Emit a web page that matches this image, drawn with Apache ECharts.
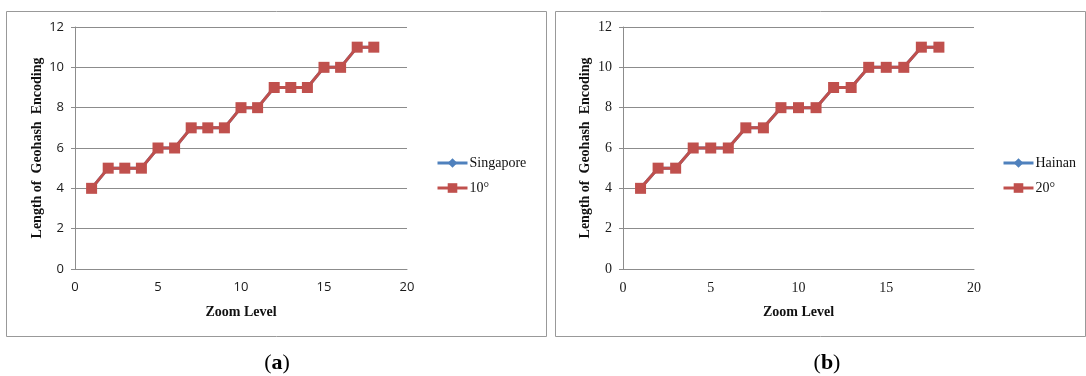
<!DOCTYPE html>
<html>
<head>
<meta charset="utf-8">
<script src="https://cdn.jsdelivr.net/npm/echarts@6/dist/echarts.min.js"></script>
<style>
  html, body { margin: 0; padding: 0; background: #fff; }
  #chart { width: 1086px; height: 376px; }
</style>
</head>
<body>
<div id="chart"></div>
<script>
// Geohash encoding length per map zoom level, two regions
const zoomLevels = [1, 2, 3, 4, 5, 6, 7, 8, 9, 10, 11, 12, 13, 14, 15, 16, 17, 18];
const singapore = [4, 5, 5, 5, 6, 6, 7, 7, 7, 8, 8, 9, 9, 9, 10, 10, 11, 11];
const deg10     = [4, 5, 5, 5, 6, 6, 7, 7, 7, 8, 8, 9, 9, 9, 10, 10, 11, 11];
const hainan    = [4, 5, 5, 6, 6, 6, 7, 7, 8, 8, 8, 9, 9, 10, 10, 10, 11, 11];
const deg20     = [4, 5, 5, 6, 6, 6, 7, 7, 8, 8, 8, 9, 9, 10, 10, 10, 11, 11];
const seriesNamesA = ['Singapore', '10°'];
const seriesNamesB = ['Hainan', '20°'];
const captions = ['a', 'b'];
const xTitle = 'Zoom Level';
const yTitle = 'Length of  Geohash  Encoding';

const pairs = (ys) => zoomLevels.map((x, i) => [x, ys[i]]);

const BLUE = '#4F81BD';
const RED = '#C0504D';
const GRID = '#8c8c8c';
const SERIF = '"Liberation Serif", "Times New Roman", serif';
const SANS = '"Open Sans", "Liberation Sans", sans-serif';

function xAxis(gridIndex, labelFont, labelSize) {
  return {
    type: 'value', gridIndex, min: 0, max: 20, interval: 5,
    name: xTitle, nameLocation: 'middle', nameGap: 36,
    nameTextStyle: { fontFamily: SERIF, fontWeight: 'bold', fontSize: 14, color: '#111' },
    axisLine: { show: true, lineStyle: { color: GRID, width: 1 } },
    axisTick: { show: false },
    splitLine: { show: false },
    axisLabel: { margin: 12, fontFamily: labelFont, fontSize: labelSize, color: '#1a1a1a' }
  };
}
function yAxis(gridIndex, labelFont, labelSize) {
  return {
    type: 'value', gridIndex, min: 0, max: 12, interval: 2,
    name: yTitle, nameLocation: 'middle', nameGap: 31, nameRotate: 90,
    nameTextStyle: { fontFamily: SERIF, fontWeight: 'bold', fontSize: 14, color: '#111' },
    axisLine: { show: true, lineStyle: { color: GRID, width: 1 } },
    axisTick: { show: true, inside: false, length: 4, lineStyle: { color: GRID } },
    splitLine: { show: true, lineStyle: { color: GRID, width: 1 } },
    axisLabel: { margin: 11, fontFamily: labelFont, fontSize: labelSize, color: '#1a1a1a' }
  };
}
function lineSeries(name, data, idx, color, symbol, size, z) {
  return {
    type: 'line', name, data: pairs(data), xAxisIndex: idx, yAxisIndex: idx,
    symbol, symbolSize: size, showSymbol: true, z,
    lineStyle: { color, width: 3 },
    itemStyle: { color, borderWidth: 0 },
    emphasis: { disabled: true }, animation: false
  };
}
function legend(names, left) {
  return {
    data: names, orient: 'vertical', left, top: 151,
    itemWidth: 30, itemHeight: 12, itemGap: 11,
    lineStyle: { width: 3 },
    textStyle: { fontFamily: SERIF, fontSize: 14, color: '#111', padding: [0, 0, 0, -3] },
    selectedMode: false
  };
}
function frame(x, w) {
  return { type: 'rect', shape: { x: x + 0.5, y: 11.5, width: w, height: 325 },
           style: { fill: 'none', stroke: '#999', lineWidth: 1 }, z: -1 };
}
function caption(letter, cx) {
  return {
    type: 'text', x: cx, y: 363,
    style: {
      text: '(' + '{b|' + letter + '})',
      rich: { b: { fontFamily: SERIF, fontWeight: 'bold', fontSize: 22, fill: '#000' } },
      fontFamily: SERIF, fontSize: 22, fill: '#000',
      align: 'center', verticalAlign: 'middle'
    }
  };
}

const chart = echarts.init(document.getElementById('chart'), null, { renderer: 'canvas' });
chart.setOption({
  backgroundColor: '#fff',
  animation: false,
  grid: [
    { left: 75, right: 679, top: 27, bottom: 107 },
    { left: 623, right: 112, top: 27, bottom: 107 }
  ],
  xAxis: [xAxis(0, SANS, 13), xAxis(1, SERIF, 14)],
  yAxis: [yAxis(0, SANS, 13), yAxis(1, SERIF, 14)],
  legend: [legend(seriesNamesA, 431), legend(seriesNamesB, 997)],
  series: [
    lineSeries(seriesNamesA[0], singapore, 0, BLUE, 'diamond', 8, 2),
    lineSeries(seriesNamesA[1], deg10, 0, RED, 'rect', 11, 3),
    lineSeries(seriesNamesB[0], hainan, 1, BLUE, 'diamond', 8, 2),
    lineSeries(seriesNamesB[1], deg20, 1, RED, 'rect', 11, 3)
  ],
  graphic: [
    frame(6, 540), frame(555, 530),
    caption(captions[0], 277), caption(captions[1], 827)
  ]
});
</script>
</body>
</html>
